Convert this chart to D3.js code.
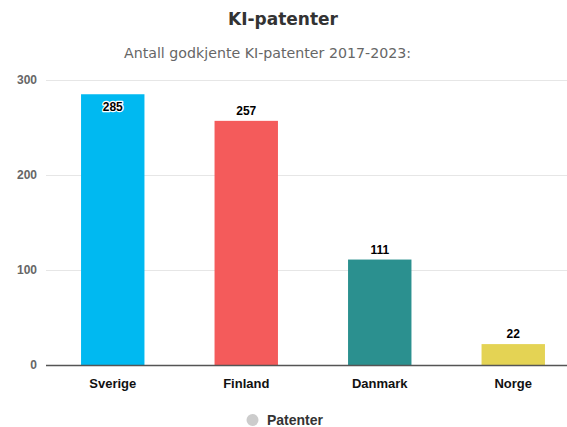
<!DOCTYPE html>
<html><head><meta charset="utf-8">
<script src="https://cdn.jsdelivr.net/npm/d3@7"></script>
<style>body{margin:0;background:#fff}svg{display:block}</style>
</head><body>
<script>
const categories = ["Sverige", "Finland", "Danmark", "Norge"];
const values = [285, 257, 111, 22];
const colors = ["#00b9f1", "#f45b5b", "#2b908f", "#e4d354"];
const yTicks = [0, 100, 200, 300];
const title = "KI-patenter";
const subtitle = "Antall godkjente KI-patenter 2017-2023:";
const seriesName = "Patenter";

const W = 567, H = 427;
const svg = d3.select("body").append("svg").attr("width", W).attr("height", H);
const left = 46, right = 567;
const x = d3.scaleBand().domain(categories).range([left, 580]).paddingInner(0.525).paddingOuter(0.2625);
const y = d3.scaleLinear().domain([0, 300]).range([365, 80]);

svg.append("text").attr("x", 283).attr("y", 25).attr("text-anchor", "middle")
  .attr("font-family", "DejaVu Sans, sans-serif").attr("font-weight", "bold").attr("font-size", 17)
  .attr("fill", "#333").text(title);
svg.append("text").attr("x", 267.5).attr("y", 58).attr("text-anchor", "middle")
  .attr("font-family", "DejaVu Sans, sans-serif").attr("font-size", 14.2)
  .attr("fill", "#666").text(subtitle);

// grid
const yAxis = d3.axisLeft(y).tickValues(yTicks).tickSize(-(right - left)).tickPadding(9);
const ga = svg.append("g").attr("transform", `translate(${left},0)`).call(yAxis);
ga.select(".domain").remove();
ga.selectAll(".tick line").attr("stroke", "#e6e6e6");
ga.selectAll(".tick text").attr("font-family", "Liberation Sans, Arial, sans-serif")
  .attr("font-size", 12).attr("font-weight", "bold").attr("fill", "#666");

// bars
svg.selectAll("rect.bar").data(values).enter().append("rect")
  .attr("x", (d, i) => x(categories[i])).attr("width", x.bandwidth())
  .attr("y", d => y(d)).attr("height", d => y(0) - y(d))
  .attr("fill", (d, i) => colors[i]);

// x axis
const xAxis = d3.axisBottom(x).tickSize(0).tickPadding(14);
const gx = svg.append("g").attr("transform", `translate(0,${y(0)})`).call(xAxis);
gx.select(".domain").remove();
gx.selectAll(".tick text").attr("font-family", "Liberation Sans, Arial, sans-serif")
  .attr("font-size", 13).attr("font-weight", "bold").attr("fill", "#111");
svg.append("line").attr("x1", left).attr("x2", right).attr("y1", y(0) + 0.5).attr("y2", y(0) + 0.5)
  .attr("stroke", "#555").attr("stroke-width", 1.5);

// data labels
svg.selectAll("text.lbl").data(values).enter().append("text")
  .attr("x", (d, i) => x(categories[i]) + x.bandwidth() / 2)
  .attr("y", d => (y(d) - 21 < 80) ? y(d) + 17 : y(d) - 6)
  .attr("text-anchor", "middle")
  .attr("font-family", "Liberation Sans, Arial, sans-serif").attr("font-size", 12).attr("font-weight", "bold")
  .attr("fill", "#000").attr("stroke", "#fff").attr("stroke-width", 2.5).attr("paint-order", "stroke")
  .attr("stroke-linejoin", "round")
  .text(d => d);

// legend
svg.append("circle").attr("cx", 252.5).attr("cy", 420).attr("r", 6).attr("fill", "#ccc");
svg.append("text").attr("x", 267).attr("y", 425)
  .attr("font-family", "Liberation Sans, Arial, sans-serif").attr("font-size", 14).attr("font-weight", "bold")
  .attr("fill", "#333").text(seriesName);
</script>
</body></html>
